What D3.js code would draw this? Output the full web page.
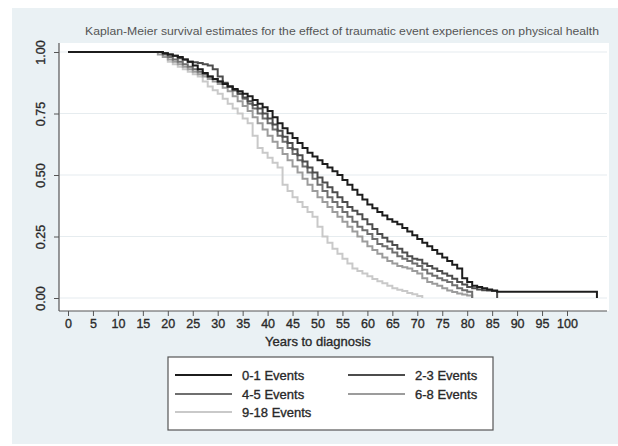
<!DOCTYPE html>
<html>
<head>
<meta charset="utf-8">
<script src="https://cdn.jsdelivr.net/npm/d3@7"></script>
<style>
  body { margin: 0; background: #fff; }
  text { font-family: "Liberation Sans", Arial, sans-serif; }
  .lbl { stroke: #333; stroke-width: 0.35px; }
</style>
</head>
<body>
<div id="chart"></div>
<script>
// Survival estimates, one value per year starting at startYear
var startYear = 18;

var groupNames = ["0-1 Events", "2-3 Events", "4-5 Events", "6-8 Events", "9-18 Events"];

var surv01 = [1.00, 0.995, 0.99, 0.985, 0.98, 0.97, 0.96, 0.945, 0.93, 0.915,
  0.90, 0.89, 0.88, 0.87, 0.86, 0.85, 0.84, 0.83, 0.82, 0.805,
  0.79, 0.775, 0.76, 0.735, 0.71, 0.69, 0.67, 0.65, 0.63, 0.61,
  0.59, 0.575, 0.56, 0.545, 0.53, 0.515, 0.50, 0.48, 0.46, 0.44,
  0.42, 0.40, 0.38, 0.365, 0.35, 0.335, 0.32, 0.31, 0.30, 0.285,
  0.27, 0.255, 0.24, 0.225, 0.21, 0.195, 0.18, 0.165, 0.15, 0.135,
  0.12, 0.08, 0.065, 0.05, 0.045, 0.04, 0.035, 0.03, 0.025];

var surv23 = [1.00, 0.995, 0.99, 0.985, 0.975, 0.97, 0.96, 0.958, 0.955, 0.95,
  0.945, 0.93, 0.90, 0.875, 0.86, 0.845, 0.83, 0.815, 0.80, 0.785,
  0.77, 0.75, 0.73, 0.705, 0.68, 0.655, 0.63, 0.605, 0.58, 0.555,
  0.53, 0.51, 0.49, 0.47, 0.45, 0.43, 0.41, 0.39, 0.37, 0.355,
  0.34, 0.32, 0.30, 0.28, 0.26, 0.245, 0.23, 0.215, 0.20, 0.185,
  0.17, 0.16, 0.155, 0.14, 0.13, 0.12, 0.11, 0.10, 0.09, 0.078,
  0.065, 0.055, 0.045, 0.04, 0.035, 0.032, 0.03, 0.028];

var surv45 = [1.00, 0.99, 0.98, 0.97, 0.96, 0.95, 0.94, 0.93, 0.92, 0.91,
  0.90, 0.89, 0.88, 0.87, 0.86, 0.845, 0.83, 0.81, 0.79, 0.77,
  0.75, 0.73, 0.71, 0.685, 0.66, 0.635, 0.61, 0.585, 0.56, 0.535,
  0.51, 0.485, 0.46, 0.435, 0.41, 0.39, 0.37, 0.35, 0.33, 0.31,
  0.29, 0.275, 0.26, 0.24, 0.22, 0.21, 0.20, 0.185, 0.17, 0.16,
  0.15, 0.14, 0.13, 0.115, 0.10, 0.09, 0.08, 0.072, 0.065, 0.052,
  0.04, 0.032, 0.025];

var surv68 = [0.99, 0.98, 0.97, 0.96, 0.95, 0.94, 0.93, 0.92, 0.91, 0.90,
  0.89, 0.88, 0.87, 0.855, 0.84, 0.82, 0.80, 0.78, 0.76, 0.735,
  0.71, 0.685, 0.66, 0.635, 0.61, 0.585, 0.56, 0.535, 0.51, 0.485,
  0.46, 0.435, 0.41, 0.39, 0.37, 0.35, 0.33, 0.31, 0.29, 0.27,
  0.25, 0.23, 0.21, 0.195, 0.18, 0.165, 0.15, 0.14, 0.13, 0.125,
  0.12, 0.11, 0.10, 0.08, 0.065, 0.058, 0.05, 0.04, 0.03, 0.024,
  0.018, 0.014, 0.01];

var surv918 = [1.00, 0.98, 0.96, 0.95, 0.94, 0.93, 0.92, 0.91, 0.90, 0.88,
  0.86, 0.845, 0.83, 0.81, 0.79, 0.77, 0.75, 0.73, 0.71, 0.66,
  0.61, 0.59, 0.57, 0.55, 0.53, 0.46, 0.435, 0.41, 0.39, 0.37,
  0.35, 0.33, 0.29, 0.25, 0.225, 0.20, 0.18, 0.16, 0.14, 0.12,
  0.11, 0.10, 0.088, 0.077, 0.068, 0.06, 0.05, 0.04, 0.034, 0.028,
  0.02, 0.015, 0.008];

// year at which each curve finally drops to zero
var lastYear = [106, 86, 81, 81, 71];

var xTicks = [0, 5, 10, 15, 20, 25, 30, 35, 40, 45, 50, 55, 60, 65, 70, 75, 80, 85, 90, 95, 100];
var yTicks = [0, 0.25, 0.5, 0.75, 1];

var svgWidth = 618, svgHeight = 446;
var plot = { left: 59, top: 43, right: 609, bottom: 311 };

var svg = d3.select("#chart").append("svg")
  .attr("width", svgWidth)
  .attr("height", svgHeight);

// outer graph region
svg.append("rect")
  .attr("x", 12).attr("y", 8)
  .attr("width", svgWidth - 12).attr("height", svgHeight - 10)
  .attr("fill", "#eaf1f4");

// plot region
svg.append("rect")
  .attr("x", plot.left).attr("y", plot.top)
  .attr("width", plot.right - plot.left).attr("height", plot.bottom - plot.top)
  .attr("fill", "#fff");

var xScale = d3.scaleLinear().domain([0, 100]).range([68, 567]);
var yScale = d3.scaleLinear().domain([0, 1]).range([298, 52]);

// title
svg.append("text")
  .attr("x", 85).attr("y", 35)
  .attr("font-size", 10.5)
  .attr("fill", "#555")
  .attr("textLength", 514)
  .attr("lengthAdjust", "spacingAndGlyphs")
  .text("Kaplan-Meier survival estimates for the effect of traumatic event experiences on physical health");

// grid lines
svg.append("g").selectAll("line")
  .data(yTicks)
  .enter().append("line")
  .attr("x1", plot.left + 1).attr("x2", plot.right - 2)
  .attr("y1", d => yScale(d)).attr("y2", d => yScale(d))
  .attr("stroke", "#e6ecef")
  .attr("stroke-width", 1.2);

// axes
var bottomAxis = d3.axisBottom(xScale).tickValues(xTicks).tickSize(5).tickPadding(3);
var leftAxis = d3.axisLeft(yScale).tickValues(yTicks).tickSize(5).tickFormat(d3.format(".2f"));

var xAxisG = svg.append("g")
  .attr("transform", `translate(0, ${plot.bottom})`)
  .call(bottomAxis);
xAxisG.select(".domain").remove();
xAxisG.selectAll("line").attr("stroke", "#555");
xAxisG.selectAll("text")
  .classed("lbl", true)
  .attr("font-size", 12.5)
  .attr("font-family", "Liberation Sans, Arial, sans-serif")
  .attr("fill", "#222");

var yAxisG = svg.append("g")
  .attr("transform", `translate(${plot.left}, 0)`)
  .call(leftAxis);
yAxisG.select(".domain").remove();
yAxisG.selectAll("line").attr("stroke", "#555");
yAxisG.selectAll("text")
  .classed("lbl", true)
  .attr("x", null).attr("dy", null)
  .attr("transform", "translate(-14, 0) rotate(-90)")
  .attr("text-anchor", "middle")
  .attr("font-size", 12.5)
  .attr("font-family", "Liberation Sans, Arial, sans-serif")
  .attr("fill", "#222");

svg.append("line")
  .attr("x1", plot.left).attr("x2", 607)
  .attr("y1", plot.bottom).attr("y2", plot.bottom)
  .attr("stroke", "#555").attr("stroke-width", 1.2);
svg.append("line")
  .attr("x1", plot.left).attr("x2", plot.left)
  .attr("y1", plot.top).attr("y2", plot.bottom)
  .attr("stroke", "#555").attr("stroke-width", 1.2);

// x axis title
svg.append("text")
  .attr("class", "lbl")
  .attr("x", 318).attr("y", 346)
  .attr("text-anchor", "middle")
  .attr("font-size", 13)
  .attr("fill", "#222")
  .text("Years to diagnosis");

// survival curves
var survData = [surv01, surv23, surv45, surv68, surv918];
var colors = ["#1c1c1c", "#4c4c4c", "#6f6f6f", "#9c9c9c", "#c9c9c9"];

var stepLine = d3.line()
  .x(d => xScale(d[0]))
  .y(d => yScale(d[1]))
  .curve(d3.curveStepAfter);

function toPoints(values, endYear) {
  var pts = [[0, 1]];
  values.forEach(function(v, i) { pts.push([startYear + i, v]); });
  pts.push([endYear, 0]);
  return pts;
}

var curves = survData.map((vals, i) => ({ name: groupNames[i], color: colors[i], points: toPoints(vals, lastYear[i]) }));

svg.append("g").selectAll("path")
  .data(curves.slice().reverse())
  .enter().append("path")
  .attr("d", d => stepLine(d.points))
  .attr("fill", "none")
  .attr("stroke", d => d.color)
  .attr("stroke-width", 2);

// legend
var legend = svg.append("g");
legend.append("rect")
  .attr("x", 168).attr("y", 357)
  .attr("width", 325).attr("height", 73)
  .attr("fill", "#fff")
  .attr("stroke", "#555")
  .attr("stroke-width", 1.2);

var legendPos = [[175, 375], [348, 375], [175, 394], [348, 394], [175, 412]];
curves.forEach(function(c, i) {
  var p = legendPos[i];
  legend.append("line")
    .attr("x1", p[0]).attr("x2", p[0] + 57)
    .attr("y1", p[1]).attr("y2", p[1])
    .attr("stroke", c.color).attr("stroke-width", 2);
  legend.append("text")
    .attr("class", "lbl")
    .attr("x", p[0] + 67).attr("y", p[1] + 5)
    .attr("font-size", 13)
    .attr("fill", "#222")
    .text(c.name);
});
</script>
</body>
</html>
